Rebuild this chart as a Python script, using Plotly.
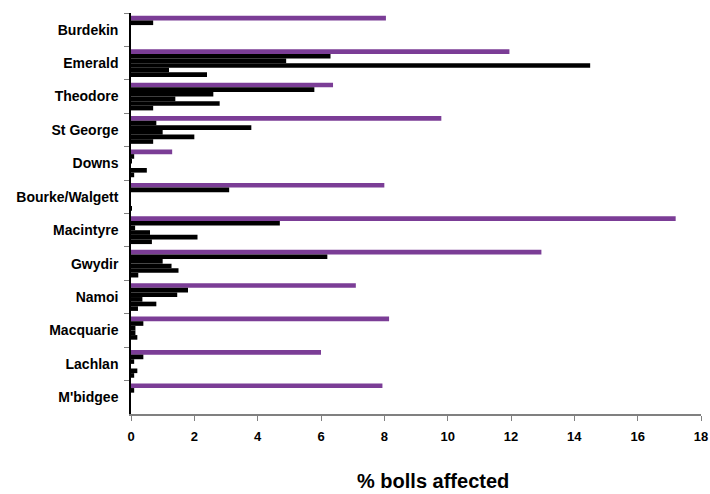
import plotly.graph_objects as go

regions = ["Burdekin", "Emerald", "Theodore", "St George", "Downs", "Bourke/Walgett",
           "Macintyre", "Gwydir", "Namoi", "Macquarie", "Lachlan", "M'bidgee"]

series_purple = [8.05, 11.95, 6.38, 9.8, 1.3, 8.0, 17.2, 12.96, 7.1, 8.15, 6.0, 7.94]
series_b1 = [0.7, 6.3, 5.79, 0.8, 0.1, 3.1, 4.7, 6.2, 1.8, 0.39, 0.39, 0.1]
series_b2 = [0.0, 4.9, 2.6, 3.8, 0.03, 0.0, 0.13, 1.0, 1.46, 0.14, 0.1, 0.0]
series_b3 = [0.0, 14.5, 1.4, 1.0, 0.0, 0.0, 0.6, 1.28, 0.36, 0.14, 0.0, 0.0]
series_b4 = [0.0, 1.2, 2.8, 2.0, 0.5, 0.0, 2.1, 1.5, 0.8, 0.2, 0.2, 0.0]
series_b5 = [0.0, 2.4, 0.7, 0.7, 0.1, 0.02, 0.66, 0.23, 0.22, 0.0, 0.1, 0.0]

x_ticks = [0, 2, 4, 6, 8, 10, 12, 14, 16, 18]

PURPLE = "#7B3D96"
BLACK = "#000000"

fig = go.Figure()
all_series = [("Series A", series_purple, PURPLE),
              ("Series B", series_b1, BLACK),
              ("Series C", series_b2, BLACK),
              ("Series D", series_b3, BLACK),
              ("Series E", series_b4, BLACK),
              ("Series F", series_b5, BLACK)]
for name, vals, col in all_series:
    fig.add_trace(go.Bar(y=regions, x=vals, name=name, orientation="h",
                         marker=dict(color=col, line=dict(width=0)),
                         showlegend=False))

font_family = "Liberation Sans, Arial, sans-serif"

fig.update_layout(
    width=710, height=494,
    margin=dict(l=131, r=9, t=13, b=80, autoexpand=False),
    paper_bgcolor="white", plot_bgcolor="white",
    barmode="group", bargap=0.17, bargroupgap=0,
    font=dict(family=font_family, size=13, color="black"),
    xaxis=dict(range=[0, 18], tickvals=x_ticks, ticktext=[str(v) for v in x_ticks],
               showgrid=False, zeroline=False, showline=True, linecolor="#808080",
               linewidth=1.5, ticks="outside", ticklen=5, tickcolor="#808080",
               automargin=False, ticklabelstandoff=5, ticklabeloverflow="allow",
               tickfont=dict(family=font_family, size=13, color="black", weight="bold")),
    yaxis=dict(autorange="reversed", type="category", tickson="boundaries",
               showgrid=False, zeroline=False, showline=True, linecolor="black",
               linewidth=1.5, ticks="outside", ticklen=5, tickcolor="#808080",
               automargin=False, ticklabelstandoff=8,
               tickfont=dict(family=font_family, size=14, color="black", weight="bold")),
    annotations=[dict(text="% bolls affected", x=0.53, xref="paper", y=-0.135,
                      yref="paper", yanchor="top", xanchor="center", showarrow=False,
                      font=dict(family=font_family, size=20, color="black", weight="bold"))],
)

fig.write_html(
    "out.html",
    config={"displayModeBar": False},
    post_script="document.body.style.margin='0';document.body.style.overflow='hidden';",
)
